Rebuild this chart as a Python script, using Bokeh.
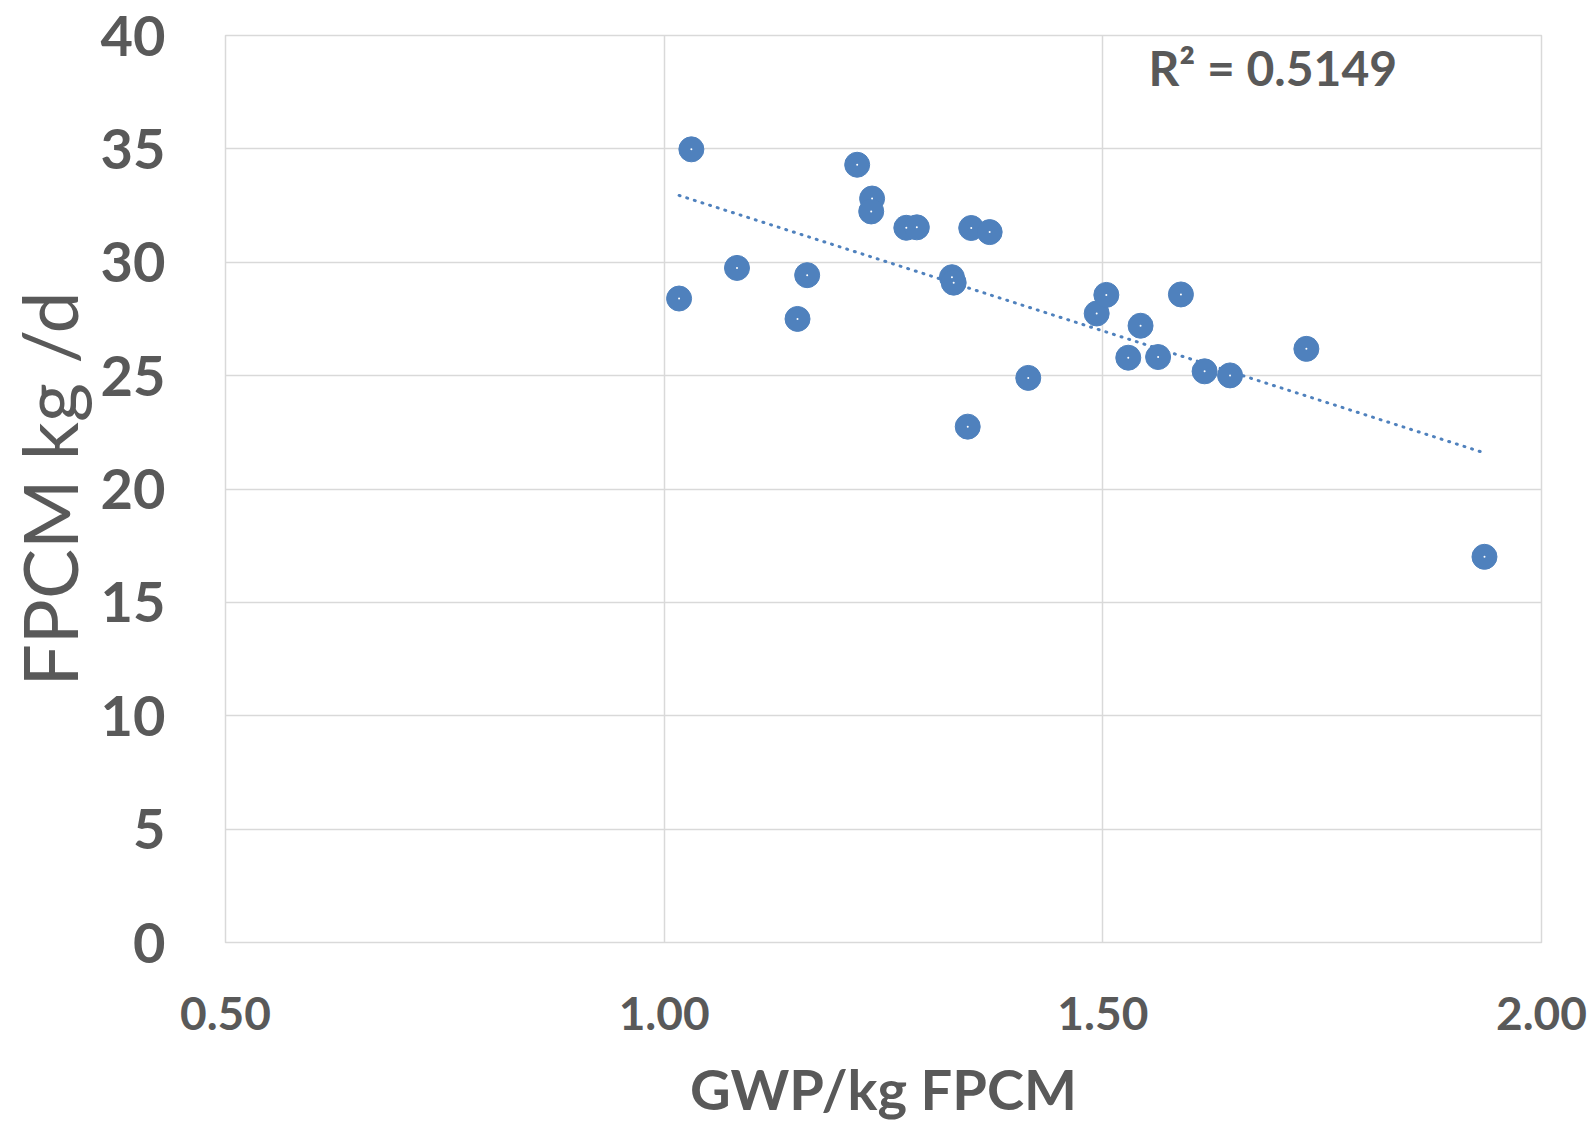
import numpy as np
from bokeh.plotting import figure
from bokeh.models import Range1d, FixedTicker, Label
from bokeh.embed import file_html
from bokeh.resources import INLINE

# Data
gwp = [1.031, 1.017, 1.083, 1.152, 1.163, 1.220, 1.237, 1.236, 1.276, 1.288,
       1.328, 1.330, 1.350, 1.371, 1.346, 1.415, 1.493, 1.504, 1.543, 1.529,
       1.563, 1.589, 1.616, 1.645, 1.732, 1.935]
fpcm = [34.98, 28.40, 29.75, 27.50, 29.43, 34.30, 32.81, 32.24, 31.52, 31.54,
        29.34, 29.10, 31.51, 31.33, 22.75, 24.90, 27.74, 28.56, 27.20, 25.79,
        25.82, 28.58, 25.19, 25.01, 26.18, 17.01]
x_ticks = [0.5, 1.0, 1.5, 2.0]
x_tick_labels = ["0.50", "1.00", "1.50", "2.00"]
y_ticks = [0, 5, 10, 15, 20, 25, 30, 35, 40]
r2_text = "R² = 0.5149"

GREY = "#595959"
BLUE = "#4F81BD"
GRID = "#D9D9D9"
FONT = "Lato"

p = figure(width=1593, height=1124, output_backend="svg", toolbar_location=None,
           x_range=Range1d(0.5, 2.0), y_range=Range1d(0, 40),
           min_border_left=224, min_border_right=52, min_border_top=35,
           min_border_bottom=181)
p.outline_line_color = GRID
p.outline_line_width = 1.5

p.xaxis.ticker = FixedTicker(ticks=x_ticks)
p.xaxis.major_label_overrides = {t: l for t, l in zip(x_ticks, x_tick_labels)}
p.yaxis.ticker = FixedTicker(ticks=y_ticks)

for ax in (p.xaxis[0], p.yaxis[0]):
    ax.axis_line_color = None
    ax.major_tick_line_color = None
    ax.minor_tick_line_color = None
    ax.major_label_text_color = GREY
    ax.major_label_text_font = FONT
    ax.major_label_text_font_style = "bold"
    ax.axis_label_text_color = GREY
    ax.axis_label_text_font = FONT

p.xaxis.major_label_text_font_size = "46px"
p.xaxis.major_label_standoff = 48
p.xaxis.axis_label = "GWP/kg FPCM"
p.xaxis.axis_label_text_font_size = "56px"
p.xaxis.axis_label_text_font_style = "bold"
p.xaxis.axis_label_standoff = 22

p.yaxis.major_label_text_font_size = "56px"
p.yaxis.major_label_standoff = 54
p.yaxis.axis_label = "FPCM kg /d"
p.yaxis.axis_label_text_font_size = "75px"
p.yaxis.axis_label_text_font_style = "normal"
p.yaxis.axis_label_standoff = 4

p.xgrid.grid_line_color = GRID
p.ygrid.grid_line_color = GRID
p.xgrid.grid_line_width = 1.5
p.ygrid.grid_line_width = 1.5

# Linear trendline from the data
slope, intercept = np.polyfit(gwp, fpcm, 1)
xs = np.array([min(gwp), max(gwp)])
p.line(xs, slope * xs + intercept, line_color=BLUE, line_width=3,
       line_dash="1 7", line_cap="round")

p.scatter(gwp, fpcm, size=25, fill_color=BLUE, line_color=BLUE, line_width=1)
p.scatter(gwp, fpcm, size=2, fill_color="white", line_color=None)

p.add_layout(Label(x=1.552, y=38.6, text=r2_text, text_font=FONT,
                   text_font_style="bold", text_font_size="48px",
                   text_color=GREY, text_baseline="middle", text_align="left"))

open("out.html", "w").write(file_html(p, INLINE))
